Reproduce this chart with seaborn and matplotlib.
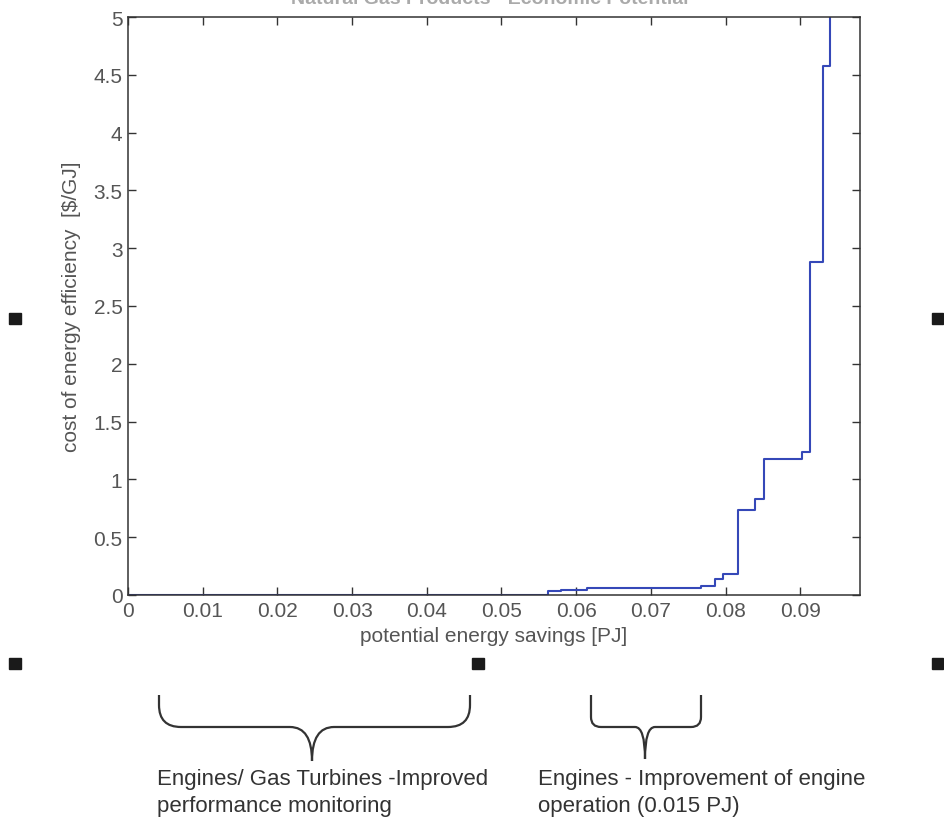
import matplotlib
matplotlib.use("Agg")
import matplotlib.pyplot as plt
import seaborn as sns
import pandas as pd
from matplotlib.path import Path
from matplotlib.patches import PathPatch, Rectangle

# ---- data ----
savings_pj = [0.0, 0.0562, 0.0580, 0.0615, 0.0767, 0.0786, 0.0796, 0.0817,
              0.0840, 0.0851, 0.0902, 0.0913, 0.0931, 0.0940]
cost_per_gj = [0.0, 0.035, 0.047, 0.064, 0.081, 0.136, 0.18, 0.735,
               0.83, 1.18, 1.24, 2.88, 4.58, 6.0]
x_ticks = [0, 0.01, 0.02, 0.03, 0.04, 0.05, 0.06, 0.07, 0.08, 0.09]
x_tick_labels = ["0", "0.01", "0.02", "0.03", "0.04", "0.05", "0.06", "0.07", "0.08", "0.09"]
y_ticks = [0, 0.5, 1, 1.5, 2, 2.5, 3, 3.5, 4, 4.5, 5]
y_tick_labels = ["0", "0.5", "1", "1.5", "2", "2.5", "3", "3.5", "4", "4.5", "5"]
title_text = "Natural Gas Products - Economic Potential"
x_label = "potential energy savings [PJ]"
y_label = "cost of energy efficiency  [$/GJ]"
note_left = ["Engines/ Gas Turbines -Improved", "performance monitoring"]
note_right = ["Engines - Improvement of engine", "operation (0.015 PJ)"]

df = pd.DataFrame({"savings": savings_pj, "cost": cost_per_gj})

sns.set_theme(style="white")
plt.rcParams["font.family"] = ["Liberation Sans", "DejaVu Sans"]

W, H = 945, 820
fig = plt.figure(figsize=(W / 100, H / 100), dpi=100)
ax = fig.add_axes([128 / W, 1 - 596 / H, (860 - 128) / W, (596 - 18) / H])

sns.lineplot(data=df, x="savings", y="cost", ax=ax, estimator=None, sort=False,
             drawstyle="steps-post", color="#3548b8", linewidth=1.5)

txt_col = "#555555"
ax.set_xlim(0, 0.098)
ax.set_ylim(0, 5)
ax.set_xticks(x_ticks)
ax.set_xticklabels(x_tick_labels)
ax.set_yticks(y_ticks)
ax.set_yticklabels(y_tick_labels)
ax.tick_params(direction="in", length=6, width=1, colors="#333333",
               labelcolor=txt_col, labelsize=15, top=True, right=True,
               bottom=True, left=True, pad=4)
for s in ax.spines.values():
    s.set_color("#333333")
    s.set_linewidth(1.1)
ax.set_xlabel(x_label, fontsize=15, color=txt_col, labelpad=5)
ax.set_ylabel(y_label, fontsize=15, color=txt_col, labelpad=9)

# title, clipped at the top edge as in the reference
fig.text(490 / W, 1 - 4 / H, title_text, ha="center", va="baseline",
         fontsize=14, color="#aaaaaa", fontweight="bold")

# selection handles
for (cx, cy) in [(15, 319), (938, 319), (15, 664), (478, 664), (938, 664)]:
    fig.patches.append(Rectangle(((cx - 5.5) / W, 1 - (cy + 5.5) / H), 11 / W, 11 / H,
                                 transform=fig.transFigure, color="#1a1a1a", zorder=5))


def brace(x0, x1, xc, ytop, ymid, ytip, r):
    pts = [(x0, ytop), (x0, ymid - r), (x0, ymid), (x0 + r, ymid),
           (xc - r, ymid), (xc, ymid), (xc, ytip),
           (xc, ymid), (xc + r, ymid),
           (x1 - r, ymid), (x1, ymid), (x1, ymid - r), (x1, ytop)]
    codes = [Path.MOVETO, Path.LINETO, Path.CURVE3, Path.CURVE3,
             Path.LINETO, Path.CURVE3, Path.CURVE3,
             Path.CURVE3, Path.CURVE3,
             Path.LINETO, Path.CURVE3, Path.CURVE3, Path.LINETO]
    verts = [(x / W, 1 - y / H) for x, y in pts]
    fig.patches.append(PathPatch(Path(verts, codes), transform=fig.transFigure, fill=False,
                                 edgecolor="#333333", linewidth=1.6, zorder=4))


brace(159, 470, 312, 696, 728, 762, 22)
brace(591, 701, 645, 696, 728, 760, 10)

for i, (l, r) in enumerate(zip(note_left, note_right)):
    y = 1 - (780 + 27 * i) / H
    fig.text(157 / W, y, l, ha="left", va="center", fontsize=16, color="#333333")
    fig.text(538 / W, y, r, ha="left", va="center", fontsize=16, color="#333333")

fig.savefig("out.png", dpi=100, facecolor="white")
